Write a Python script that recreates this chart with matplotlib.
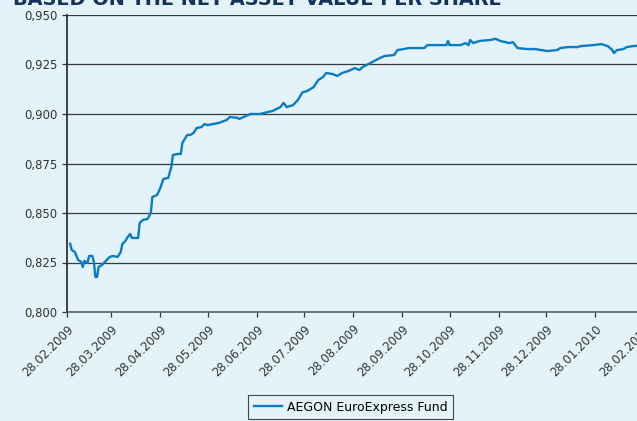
import matplotlib
matplotlib.use("Agg")
import matplotlib.pyplot as plt
import pandas as pd

# NAV per share
dates = [
    "02.03.2009", "03.03.2009", "05.03.2009", "07.03.2009", "09.03.2009", "10.03.2009",
    "11.03.2009", "13.03.2009", "14.03.2009", "16.03.2009", "17.03.2009", "18.03.2009",
    "19.03.2009", "20.03.2009", "22.03.2009", "24.03.2009", "27.03.2009", "29.03.2009",
    "01.04.2009", "03.04.2009", "04.04.2009", "06.04.2009", "07.04.2009", "09.04.2009",
    "10.04.2009", "14.04.2009", "15.04.2009", "17.04.2009", "20.04.2009", "22.04.2009",
    "23.04.2009", "26.04.2009", "28.04.2009", "30.04.2009", "03.05.2009", "05.05.2009",
    "06.05.2009", "09.05.2009", "11.05.2009", "12.05.2009", "15.05.2009", "17.05.2009",
    "19.05.2009", "21.05.2009", "24.05.2009", "26.05.2009", "28.05.2009", "04.06.2009",
    "09.06.2009", "11.06.2009", "16.06.2009", "17.06.2009", "24.06.2009", "30.06.2009",
    "05.07.2009", "08.07.2009", "13.07.2009", "15.07.2009", "17.07.2009", "21.07.2009",
    "24.07.2009", "27.07.2009", "30.07.2009", "03.08.2009", "06.08.2009", "09.08.2009",
    "11.08.2009", "15.08.2009", "18.08.2009", "21.08.2009", "25.08.2009", "29.08.2009",
    "01.09.2009", "03.09.2009", "08.09.2009", "14.09.2009", "17.09.2009", "23.09.2009",
    "25.09.2009", "29.09.2009", "02.10.2009", "12.10.2009", "14.10.2009", "26.10.2009",
    "27.10.2009", "28.10.2009", "04.11.2009", "07.11.2009", "09.11.2009", "10.11.2009",
    "12.11.2009", "16.11.2009", "23.11.2009", "26.11.2009", "29.11.2009", "05.12.2009",
    "07.12.2009", "10.12.2009", "16.12.2009", "21.12.2009", "29.12.2009", "04.01.2010",
    "06.01.2010", "11.01.2010", "17.01.2010", "19.01.2010", "27.01.2010", "01.02.2010",
    "05.02.2010", "08.02.2010", "09.02.2010", "11.02.2010", "15.02.2010", "17.02.2010",
    "21.02.2010", "26.02.2010",
]
nav = [
    0.8345, 0.8313, 0.8303, 0.8263, 0.8253, 0.8227,
    0.8258, 0.8248, 0.8283, 0.8283, 0.8253, 0.8177,
    0.8177, 0.8227, 0.8237, 0.8253, 0.8278, 0.8283,
    0.8278, 0.8303, 0.8343, 0.8359, 0.8374, 0.8394,
    0.8374, 0.8374, 0.8450, 0.8465, 0.8470, 0.8500,
    0.8581, 0.8591, 0.8626, 0.8672, 0.8677, 0.8732,
    0.8793, 0.8798, 0.8798, 0.8854, 0.8894, 0.8894,
    0.8904, 0.8929, 0.8934, 0.8949, 0.8944, 0.8955,
    0.8970, 0.8985, 0.8980, 0.8975, 0.9000, 0.9000,
    0.9010, 0.9015, 0.9035, 0.9056, 0.9035, 0.9045,
    0.9070, 0.9110, 0.9116, 0.9136, 0.9172, 0.9187,
    0.9207, 0.9202, 0.9192, 0.9207, 0.9217, 0.9232,
    0.9222, 0.9237, 0.9258, 0.9283, 0.9293, 0.9298,
    0.9323, 0.9328, 0.9333, 0.9333, 0.9348, 0.9348,
    0.9369, 0.9348, 0.9348, 0.9358, 0.9348, 0.9374,
    0.9358, 0.9369, 0.9374, 0.9380, 0.9369, 0.9358,
    0.9363, 0.9333, 0.9328, 0.9328, 0.9318, 0.9323,
    0.9333, 0.9338, 0.9338, 0.9343, 0.9348, 0.9353,
    0.9343, 0.9323, 0.9308, 0.9323, 0.9328, 0.9338,
    0.9343, 0.9345,
]

tick_dates = ["28.02.2009", "28.03.2009", "28.04.2009", "28.05.2009", "28.06.2009",
              "28.07.2009", "28.08.2009", "28.09.2009", "28.10.2009", "28.11.2009",
              "28.12.2009", "28.01.2010", "28.02.2010"]
y_ticks = [0.800, 0.825, 0.850, 0.875, 0.900, 0.925, 0.950]
y_labels = ["0,800", "0,825", "0,850", "0,875", "0,900", "0,925", "0,950"]

title = "BASED ON THE NET ASSET VALUE PER SHARE"
series_name = "AEGON EuroExpress Fund"

bg = "#e4f2f9"
line_col = "#0a7cc4"

x = pd.to_datetime(dates, format="%d.%m.%Y")
xt = pd.to_datetime(tick_dates, format="%d.%m.%Y")

fig = plt.figure(figsize=(6.37, 4.21), dpi=100, facecolor=bg)
ax = fig.add_axes([67 / 637, 109 / 421, 577 / 637, 297 / 421], facecolor=bg)

ax.plot(x, nav, color=line_col, lw=1.7, label=series_name)

ax.set_xlim(xt[0], xt[-1])
ax.set_ylim(0.800, 0.950)
ax.set_yticks(y_ticks)
ax.set_yticklabels(y_labels)
ax.set_xticks(xt)
ax.set_xticklabels(tick_dates, rotation=45, ha="right", va="top", rotation_mode="anchor")

ax.yaxis.grid(True, color="#3a3a3a", lw=0.9)
ax.set_axisbelow(True)
for s in ["top", "right"]:
    ax.spines[s].set_visible(False)
ax.spines["left"].set_color("#333333")
ax.spines["left"].set_linewidth(1.3)
ax.spines["bottom"].set_color("#555555")
ax.spines["bottom"].set_linewidth(1.1)
ax.tick_params(axis="both", labelsize=8.4, colors="#333333", length=3.5, width=0.9)
ax.tick_params(axis="x", pad=4)

fig.text(13 / 637, 1 - 5 / 421, title, fontsize=13.9, fontweight="bold",
         color="#13325c", ha="left", va="baseline")

leg = fig.legend(loc="upper left", bbox_to_anchor=(248 / 637, 1 - 395 / 421),
                 borderaxespad=0, fontsize=9, frameon=True, fancybox=False,
                 handlelength=2.3, handletextpad=0.35, borderpad=0.45,
                 facecolor=bg, edgecolor="#444444", framealpha=1)
leg.get_frame().set_linewidth(0.8)

fig.savefig("out.png", dpi=100, facecolor=bg)
